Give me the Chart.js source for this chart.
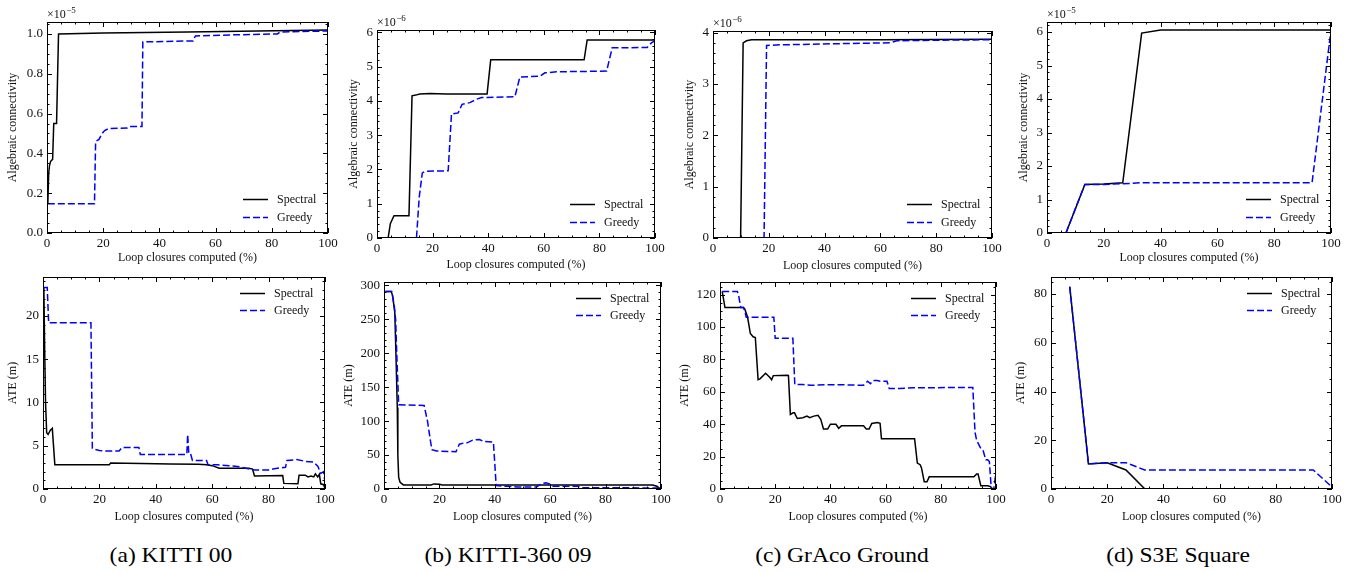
<!DOCTYPE html>
<html>
<head>
<meta charset="utf-8">
<script src="https://cdn.jsdelivr.net/npm/chart.js@4.4.0/dist/chart.umd.min.js"></script>
<style>
  body { margin: 0; background: #fff; width: 1364px; height: 572px; position: relative; overflow: hidden;
         font-family: "Liberation Serif", "Times New Roman", serif; }
  canvas { position: absolute; }
  .cap { position: absolute; top: 543px; font-size: 21px; color: #000; white-space: nowrap;
         transform: translateX(-50%) scaleX(1.12); }
</style>
</head>
<body>
<div class="cap" style="left:171px">(a) KITTI 00</div>
<div class="cap" style="left:508px">(b) KITTI-360 09</div>
<div class="cap" style="left:842px">(c) GrAco Ground</div>
<div class="cap" style="left:1178px">(d) S3E Square</div>
<script>
"use strict";

const FONT = '"Liberation Serif", "Times New Roman", serif';

// x = loop closures computed (%), y = value (connectivity in units of the x10^n label)

// KITTI 00, algebraic connectivity (x1e-5)
const kittiConnSpectral = [[0.3,0.15],[0.6,0.3],[0.9,0.34],[1.3,0.36],[2.0,0.37],[2.4,0.55],[3.4,0.55],[4.1,1.0],
  [20,1.005],[50,1.01],[100,1.02]];
const kittiConnGreedy = [[0.3,0.147],[16.9,0.147],[17.3,0.46],[18.5,0.47],[19.6,0.5],[20.5,0.515],[22,0.525],
  [28.5,0.527],[29.2,0.535],[33.8,0.535],[34.1,0.96],[52,0.965],[52.8,0.99],[65,0.995],[82,1.0],[83,1.01],[100,1.015]];

// KITTI-360 09, algebraic connectivity (x1e-6)
const k360ConnSpectral = [[0,0],[4.0,0],[4.8,0.42],[6.1,0.65],[11.5,0.65],[12.6,4.15],[13.9,4.17],[15.4,4.2],
  [19,4.22],[25,4.2],[39.6,4.2],[40.9,5.2],[74.5,5.2],[75.6,5.78],[100,5.78]];
const k360ConnGreedy = [[0,0],[14.2,0],[15.2,1.2],[16.3,1.9],[17.5,1.95],[25.6,1.96],[26.8,3.62],[29.2,3.65],
  [30.6,3.9],[33.4,3.95],[35.8,4.05],[37.6,4.1],[49.6,4.12],[51.4,4.7],[58.6,4.72],[60.4,4.82],[64.6,4.85],
  [82.6,4.87],[84.6,5.55],[97.2,5.56],[98.8,5.7],[100,5.75]];

// GrAco Ground, algebraic connectivity (x1e-6)
const gracoConnSpectral = [[0,0],[9.9,0],[10.8,3.8],[12,3.84],[13.8,3.86],[60,3.86],[100,3.87]];
const gracoConnGreedy = [[0,0],[18.3,0],[19.2,3.75],[24,3.76],[42,3.78],[63.5,3.8],[65.9,3.84],[80,3.85],[100,3.86]];

// S3E Square: 15 evaluation steps
const s3eSteps = [6.67,13.33,20,26.67,33.33,40,46.67,53.33,60,66.67,73.33,80,86.67,93.33,100];
const s3eConnSpectral = [0,1.45,1.46,1.5,5.97,6.06,6.06,6.06,6.06,6.06,6.06,6.06,6.06,6.06,6.06]; // x1e-5
const s3eConnGreedy   = [0,1.45,1.45,1.47,1.5,1.5,1.5,1.5,1.5,1.5,1.5,1.5,1.5,1.5,6.06];
const s3eAteSpectral  = [83,10.3,10.8,7.8,0.1,0.1,0.1,0.1,0.1,0.1,0.1,0.1,0.1,0.1,0.1];
const s3eAteGreedy    = [83,10.3,10.8,10.8,7.8,7.8,7.8,7.8,7.8,7.8,7.8,7.8,7.8,7.8,0.8];

// ATE (m)
const kittiAteSpectral = [[0.3,23.3],[0.6,16],[0.9,10],[1.3,6.5],[1.8,6.3],[2.6,6.8],[3.3,7.0],[4.2,2.8],[23.5,2.8],
  [24,3.0],[35,2.95],[45,2.9],[55,2.85],[58,2.8],[60,2.7],[62.5,2.4],[73,2.4],[74.3,2.3],[75,1.5],[85,1.55],
  [85.4,0.65],[90.4,0.6],[90.8,1.6],[93,1.6],[94,1.4],[95,1.5],[96,1.4],[96.6,1.75],[97.4,1.4],[98,1.7],
  [98.5,0.6],[99.5,0.5],[100,0.05]];
const kittiAteGreedy = [[0.3,23.3],[1.5,23.3],[2.0,19.2],[17.0,19.2],[17.5,4.7],[18,4.6],[20,4.45],[22,4.4],[27,4.4],
  [28,4.8],[34,4.8],[34.5,4.0],[51,4.0],[51.3,6.3],[51.7,4.1],[52.3,4.1],[53,3.3],[58,3.3],[58.5,2.8],[62,2.8],
  [66,2.7],[70,2.55],[72,2.4],[75,2.2],[80,2.2],[82,2.35],[86,2.5],[86.5,3.3],[90,3.4],[93,3.2],[96,3.1],
  [97.5,2.6],[98.5,1.8],[99.5,2.0],[100,0.8]];

const k360AteSpectral = [[0.5,291],[2.6,291],[3.1,285],[3.9,260],[4.3,200],[4.8,120],[5.0,50],[5.3,17],[5.8,10],
  [7,6],[17,6],[18,7.5],[20,7],[21,6],[97,6],[98.5,4],[99.5,1],[100,0]];
const k360AteGreedy = [[0.5,291],[2.8,291],[3.7,270],[4.2,250],[4.6,200],[5.3,124],[14.5,123],[15.7,100],[16.8,70],
  [17.3,58],[19,56],[26,55],[27.2,66],[29,68],[30,68],[32,72],[34.5,73],[36,70],[39.5,69],[40.5,5],[44,4],[48,3],
  [55,3],[57,8],[58.5,9],[60,7],[61,4],[70,4],[72,2],[100,1.5]];

const gracoAteSpectral = [[0.8,122],[1.8,112],[8.5,112],[9,111],[10,106],[11,96],[12,94],[12.8,93.5],[13.8,67.5],
  [14.5,68],[16.5,71.5],[18,69],[18.7,67.5],[19.3,70],[24.5,70.2],[24.8,70],[25.5,46],[26.5,47],[27,47],[28,43.5],
  [30,44],[31.5,45],[32.5,44],[34,45],[35.5,45.5],[36.5,43],[37.5,37],[39,37],[40,40],[42,40],[43,37.5],[44,39],
  [52,39],[53,37],[54,37],[55,40.5],[57,41],[58,40.5],[58.5,31],[70.5,31],[71.5,16],[72.5,15],[73,13],[74,4.5],
  [75,4.5],[75.8,7.5],[92,7.5],[93,9.3],[93.5,9.3],[94.5,2],[97,2],[98,1.5],[98.8,0],[100,0]];
const gracoAteGreedy = [[0.8,122],[6.3,122],[6.8,119],[7.5,112],[8.5,112],[9,110],[9.5,106],[19.5,106],[20,93],
  [26.4,93],[27.1,64.5],[30,64.5],[33,64],[38,64.3],[45,64.3],[52,64],[53.5,66.5],[54.5,65],[55.5,67],[57,67],
  [58,66.5],[60.5,66.5],[61.3,62],[65,62],[70,62.5],[91.6,62.7],[92.4,35],[93,30],[94.5,25],[95.3,24],[96.3,18],
  [97,18],[97.6,17],[98.3,0],[99.2,0],[99.8,8]];

const xTicks = { max: 100, step: 20, minor: 5 };

function pairs(p) { return p.map(([x, y]) => ({ x, y })); }
function zipSteps(ys) { return s3eSteps.map((x, i) => ({ x, y: ys[i] })); }

// box: [y-title centre x, left, top, right, bottom, x-title centre y]
const panels = [
  { spec: pairs(kittiConnSpectral), greedy: pairs(kittiConnGreedy), yMax: 1.06, yStep: 0.2, yMinor: 0.05, digits: 1,
    yTitle: "Algebraic connectivity", exp: "5", legend: "br", box: [13, 47, 22, 328, 233, 258] },
  { spec: pairs(k360ConnSpectral), greedy: pairs(k360ConnGreedy), yMax: 6.07, yStep: 1, yMinor: 0.2, digits: 0,
    yTitle: "Algebraic connectivity", exp: "6", legend: "br", box: [354, 377, 30, 655, 238, 265] },
  { spec: pairs(gracoConnSpectral), greedy: pairs(gracoConnGreedy), yMax: 4.03, yStep: 1, yMinor: 0.2, digits: 0,
    yTitle: "Algebraic connectivity", exp: "6", legend: "br", box: [690, 713, 31, 992, 238, 266] },
  { spec: zipSteps(s3eConnSpectral), greedy: zipSteps(s3eConnGreedy), yMax: 6.3, yStep: 1, yMinor: 0.2, digits: 0,
    yTitle: "Algebraic connectivity", exp: "5", legend: "br", box: [1024, 1047, 22, 1331, 233, 258] },
  { spec: pairs(kittiAteSpectral), greedy: pairs(kittiAteGreedy), yMax: 24.5, yStep: 5, yMinor: 1, digits: 0,
    yTitle: "ATE (m)", exp: null, legend: "tr", box: [13, 43, 277, 325, 489, 517] },
  { spec: pairs(k360AteSpectral), greedy: pairs(k360AteGreedy), yMax: 305, yStep: 50, yMinor: 10, digits: 0,
    yTitle: "ATE (m)", exp: null, legend: "tr", box: [349, 384, 282, 661, 489, 517] },
  { spec: pairs(gracoAteSpectral), greedy: pairs(gracoAteGreedy), yMax: 127.8, yStep: 20, yMinor: 5, digits: 0,
    yTitle: "ATE (m)", exp: null, legend: "tr", box: [685, 720, 282, 996, 489, 517] },
  { spec: zipSteps(s3eAteSpectral), greedy: zipSteps(s3eAteGreedy), yMax: 87, yStep: 20, yMinor: 5, digits: 0,
    yTitle: "ATE (m)", exp: null, legend: "tr", box: [1021, 1051, 277, 1332, 489, 517] },
];

const PAD_TOP = 24, PAD_RIGHT = 16;

function tickMarks(ctx, scale, a, horizontal, max, major, minor) {
  for (let v = 0; v <= max + 1e-9; v += minor) {
    const isMajor = Math.abs(v / major - Math.round(v / major)) < 1e-6;
    const len = isMajor ? 5 : 2.5;
    const p = Math.round(scale.getPixelForValue(v)) + 0.5;
    ctx.beginPath();
    if (horizontal) {
      ctx.moveTo(p, a.bottom); ctx.lineTo(p, a.bottom - len);
      ctx.moveTo(p, a.top); ctx.lineTo(p, a.top + len);
    } else {
      ctx.moveTo(a.left, p); ctx.lineTo(a.left + len, p);
      ctx.moveTo(a.right, p); ctx.lineTo(a.right - len, p);
    }
    ctx.stroke();
  }
}

const decor = {
  id: "decor",
  afterDatasetsDraw(chart, args, o) {
    const { ctx, chartArea: a, scales } = chart;
    ctx.save();
    ctx.strokeStyle = "#000";
    ctx.lineWidth = 1;
    ctx.strokeRect(a.left + 0.5, a.top + 0.5, a.right - a.left - 1, a.bottom - a.top - 1);
    tickMarks(ctx, scales.x, a, true, xTicks.max, xTicks.step, xTicks.minor);
    tickMarks(ctx, scales.y, a, false, o.yMax, o.yStep, o.yMinor);

    // legend
    const rows = [["Spectral", "#000", []], ["Greedy", "#0000ff", [7, 3]]];
    const x0 = a.right - 85;
    const y0 = o.legend === "br" ? a.bottom - 34 : a.top + 15.5;
    ctx.font = "12px " + FONT;
    ctx.textBaseline = "middle";
    rows.forEach(([label, color, dash], i) => {
      const y = Math.round(y0 + i * 17.5) + 0.5;
      ctx.strokeStyle = color;
      ctx.lineWidth = 1.5;
      ctx.setLineDash(dash);
      ctx.beginPath(); ctx.moveTo(x0, y); ctx.lineTo(x0 + 25, y); ctx.stroke();
      ctx.setLineDash([]);
      ctx.fillStyle = "#111";
      ctx.fillText(label, x0 + 34, y);
    });

    // offset label
    if (o.exp) {
      ctx.textBaseline = "alphabetic";
      ctx.font = "12px " + FONT;
      const base = "\u00d710";
      ctx.fillText(base, a.left, a.top - 4);
      const w = ctx.measureText(base).width;
      ctx.font = "9px " + FONT;
      ctx.fillText("\u2212" + o.exp, a.left + w + 0.5, a.top - 9);
    }
    ctx.restore();
  }
};

function makeChart(p) {
  const [tcx, L, T, R, B, xty] = p.box;
  const left = Math.round(tcx - 7);
  const top = T - PAD_TOP;
  const width = R + PAD_RIGHT - left;
  const height = Math.round(xty + 7) - top;
  const yW = L - left;
  const xH = height - (B - top);

  const c = document.createElement("canvas");
  c.width = width; c.height = height;
  c.style.left = left + "px"; c.style.top = top + "px";
  c.style.width = width + "px"; c.style.height = height + "px";
  document.body.appendChild(c);

  const tickFont = { family: FONT, size: 13 };
  const titleFont = { family: FONT, size: 12 };

  return new Chart(c, {
    type: "line",
    data: {
      datasets: [
        { label: "Spectral", data: p.spec, borderColor: "#000", borderWidth: 1.5, pointRadius: 0, tension: 0, order: 1 },
        { label: "Greedy", data: p.greedy, borderColor: "#0000ff", borderWidth: 1.5, borderDash: [7, 3],
          pointRadius: 0, tension: 0, order: 0 },
      ]
    },
    options: {
      responsive: false,
      animation: false,
      devicePixelRatio: 1,
      layout: { padding: { left: 0, top: PAD_TOP, right: PAD_RIGHT, bottom: 0 } },
      plugins: { legend: { display: false }, tooltip: { enabled: false },
        decor: { yMax: p.yMax, yStep: p.yStep, yMinor: p.yMinor, legend: p.legend, exp: p.exp } },
      scales: {
        x: {
          type: "linear", min: 0, max: 100,
          grid: { display: false, drawTicks: false }, border: { display: false },
          ticks: { stepSize: xTicks.step, padding: 3, color: "#111", font: tickFont, maxRotation: 0 },
          title: { display: true, text: "Loop closures computed (%)", color: "#111", font: titleFont, padding: 0 },
          afterFit(s) { s.height = xH; }
        },
        y: {
          type: "linear", min: 0, max: p.yMax,
          grid: { display: false, drawTicks: false }, border: { display: false },
          ticks: { stepSize: p.yStep, includeBounds: false, padding: 4, color: "#111", font: tickFont,
                   callback: (v) => Number(v).toFixed(p.digits) },
          title: { display: true, text: p.yTitle, color: "#111", font: titleFont, padding: 0 },
          afterFit(s) { s.width = yW; }
        }
      }
    },
    plugins: [decor]
  });
}

panels.forEach(makeChart);
</script>
</body>
</html>
